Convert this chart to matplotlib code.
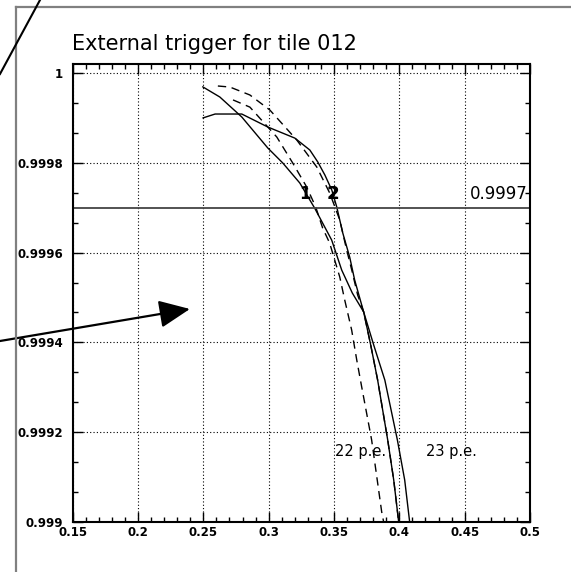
import matplotlib
matplotlib.use("Agg")
import matplotlib.pyplot as plt
from matplotlib.lines import Line2D
from matplotlib.ticker import MultipleLocator, FixedLocator, FixedFormatter
import numpy as np

# curve "1" (solid, steep)
x_a = [0.2496, 0.2626, 0.2794, 0.2993, 0.3108, 0.3238, 0.3352, 0.3482, 0.3559,
       0.3640, 0.3727, 0.3804, 0.3889, 0.3985, 0.4041, 0.4079]
y_a = [0.999969, 0.9999465, 0.999902, 0.999833, 0.9997995, 0.999755, 0.999699,
       0.999628, 0.999561, 0.999510, 0.9994677, 0.999394, 0.999316, 0.9991826,
       0.9990935, 0.999]

# curve "2" (solid, flat start)
x_b = [0.2498, 0.2590, 0.2794, 0.2993, 0.3200, 0.3315, 0.3376, 0.3430, 0.3483,
       0.3521, 0.3567, 0.3620, 0.3658, 0.3727, 0.3781, 0.3834, 0.3911, 0.3957,
       0.3995]
y_b = [0.9999, 0.9999086, 0.9999086, 0.9998797, 0.999855, 0.9998284, 0.9998017,
       0.9997728, 0.9997394, 0.9997015, 0.9996436, 0.99959, 0.999539, 0.9994677,
       0.999394, 0.999316, 0.9991826, 0.9990935, 0.999]

# dashed, upper
x_c = [0.2611, 0.2703, 0.2856, 0.3009, 0.3215, 0.3368, 0.3467, 0.3544, 0.3597,
       0.3636, 0.3681, 0.3727, 0.3781, 0.3834, 0.3911, 0.3957, 0.3995]
y_c = [0.999971, 0.9999687, 0.999951, 0.9999175, 0.9998507, 0.9997906, 0.9997327,
       0.9996726, 0.9996057, 0.999561, 0.9995055, 0.9994677, 0.999394, 0.999316,
       0.9991826, 0.9990935, 0.999]

# dashed, lower
x_d = [0.2727, 0.2856, 0.3062, 0.3184, 0.3291, 0.3360, 0.3413, 0.3467, 0.3505,
       0.3544, 0.3582, 0.3635, 0.3674, 0.3712, 0.3788, 0.3865, 0.3880]
y_d = [0.99994, 0.999924, 0.9998574, 0.9997995, 0.999746, 0.9997015, 0.9996547,
       0.999621, 0.9995835, 0.9995456, 0.9994944, 0.9994276, 0.9993608, 0.9993006,
       0.9991826, 0.9990223, 0.999]

cut_level = 0.9997
x_ticks = [0.15, 0.2, 0.25, 0.3, 0.35, 0.4, 0.45, 0.5]
x_labels = ["0.15", "0.2", "0.25", "0.3", "0.35", "0.4", "0.45", "0.5"]
y_ticks = [0.999, 0.9992, 0.9994, 0.9996, 0.9998, 1.0]
y_labels = ["0.999", "0.9992", "0.9994", "0.9996", "0.9998", "1"]

W, H = 571, 572
fig = plt.figure(figsize=(W / 100, H / 100), dpi=100)
ax = fig.add_axes([72.7 / W, 1 - 522 / H, (530 - 72.7) / W, (522 - 64) / H])

ax.plot(x_a, y_a, color="k", lw=1.0)
ax.plot(x_b, y_b, color="k", lw=1.0)
ax.plot(x_c, y_c, color="k", lw=1.0, dashes=(6, 4))
ax.plot(x_d, y_d, color="k", lw=1.0, dashes=(6, 4))
ax.axhline(cut_level, color="#444444", lw=1.3)

ax.set_xlim(0.15, 0.5)
ax.set_ylim(0.999, 1.00002)

ax.xaxis.set_major_locator(FixedLocator(x_ticks))
ax.xaxis.set_major_formatter(FixedFormatter(x_labels))
ax.xaxis.set_minor_locator(MultipleLocator(0.01))
ax.yaxis.set_major_locator(FixedLocator(y_ticks))
ax.yaxis.set_major_formatter(FixedFormatter(y_labels))
ax.yaxis.set_minor_locator(MultipleLocator(0.0002 / 3))

ax.tick_params(which="both", direction="in", top=True, right=True, width=1.0)
ax.tick_params(which="major", length=7)
ax.tick_params(which="minor", length=3.5)
ax.tick_params(axis="x", which="major", pad=3, labelsize=8.5)
ax.tick_params(axis="y", which="major", pad=7, labelsize=8.5)
for lab in ax.get_xticklabels() + ax.get_yticklabels():
    lab.set_fontweight("bold")
for sp in ax.spines.values():
    sp.set_linewidth(1.5)

ax.grid(True, which="major", color="k", linestyle=(0, (1, 2)), lw=0.8)

# labels on the plot
ax.text(0.3275, 0.99971, "1", fontsize=12, ha="center", va="bottom",
        family="DejaVu Sans", fontweight="bold")
ax.text(0.3488, 0.99971, "2", fontsize=12, ha="center", va="bottom",
        family="DejaVu Sans", fontweight="bold")
ax.text(0.3496, 0.99971, "2", fontsize=12, ha="center", va="bottom",
        family="DejaVu Sans", fontweight="bold")
ax.text(0.4985, 0.99971, "0.9997", fontsize=12, ha="right", va="bottom",
        family="DejaVu Sans")
ax.text(0.3505, 0.99914, "22 p.e.", fontsize=10.5, ha="left", va="bottom",
        family="DejaVu Sans")
ax.text(0.4205, 0.99914, "23 p.e.", fontsize=10.5, ha="left", va="bottom",
        family="DejaVu Sans")

fig.text(72 / W, 1 - 44 / H, "External trigger for tile 012", fontsize=15,
         family="DejaVu Sans", ha="left", va="center")

# arrow coming from outside the frame
ax.annotate("", xy=(0.2397, 0.9994744), xytext=(0, 1 - 341 / H),
            textcoords="figure fraction", annotation_clip=False,
            arrowprops=dict(arrowstyle="-|>,head_length=1.9,head_width=0.85",
                            color="k", lw=1.6, shrinkA=0, shrinkB=0))

# page decorations
fig.add_artist(Line2D([16 / W, 1], [1 - 7 / H, 1 - 7 / H], color="#808080", lw=1.6,
                      transform=fig.transFigure))
fig.add_artist(Line2D([16 / W, 16 / W], [1 - 7 / H, 0], color="#808080", lw=1.6,
                      transform=fig.transFigure))
fig.add_artist(Line2D([0, 40 / W], [1 - 74 / H, 1], color="k", lw=1.5,
                      transform=fig.transFigure))

fig.savefig("out.png", dpi=100)
